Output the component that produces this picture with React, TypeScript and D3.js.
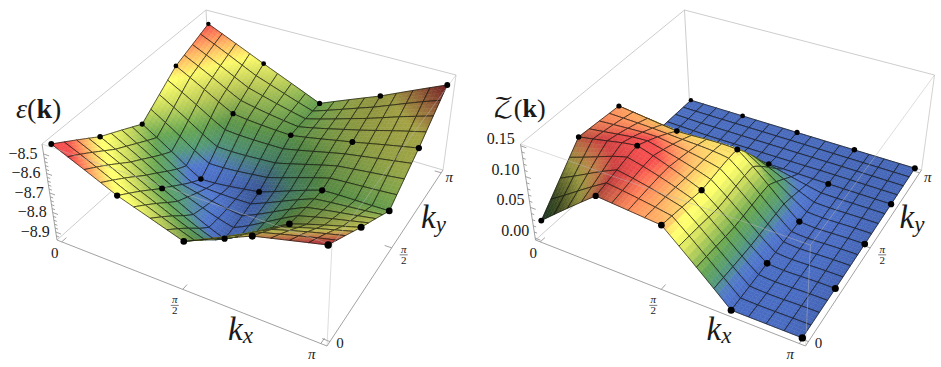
import * as d3 from 'd3'

// rows are kx = 0 .. pi, columns are ky = 0 .. pi
const energyRows = [
  [-8.457, -8.612, -8.724, -8.58, -8.505],
  [-8.608, -8.776, -8.916, -8.746, -8.639],
  [-8.72, -8.923, -8.882, -8.769, -8.766],
  [-8.568, -8.733, -8.769, -8.709, -8.641],
  [-8.481, -8.63, -8.764, -8.641, -8.494],
]
const weightRows = [
  [0.026, 0.101, 0.096, 0.005, 0.006],
  [0.102, 0.119, 0.084, 0.004, 0.005],
  [0.093, 0.081, 0.085, 0.004, 0.004],
  [-0.001, 0, 0.001, 0.002, 0.003],
  [-0.001, -0.001, 0, 0.001, 0.002],
]
const energyTicks = [-8.5, -8.6, -8.7, -8.8, -8.9]
const energyMinor = [-8.52, -8.54, -8.56, -8.58, -8.62, -8.64, -8.66, -8.68, -8.72, -8.74, -8.76, -8.78, -8.82, -8.84, -8.86, -8.88, -8.92]
const weightTicks = [0, 0.05, 0.1, 0.15]
const weightMinor = [0.01, 0.02, 0.03, 0.04, 0.06, 0.07, 0.08, 0.09, 0.11, 0.12, 0.13, 0.14]

const colorStops = [0, 0.1, 0.22, 0.33, 0.5, 0.66, 0.77, 0.9]
const colorRamp = ['#4464b4', '#4a6ec0', '#4e8f70', '#5f9a4c', '#b9c955', '#f8f668', '#fcae60', '#e24848']

// box corners on screen: bottom A,B,C,D and top, seen from kx=pi, ky=0
const bottomCorners = [[57, 240], [327, 346], [443, 170], [211, 102]]
const topCorners = [[42, 144], [332, 245], [456, 75], [206, 10]]

const MESH = 16
const SUB = 4

function homography(p0: number[], p1: number[], p2: number[], p3: number[]) {
  const dx1 = p1[0] - p2[0], dx2 = p3[0] - p2[0], sx = p0[0] - p1[0] + p2[0] - p3[0]
  const dy1 = p1[1] - p2[1], dy2 = p3[1] - p2[1], sy = p0[1] - p1[1] + p2[1] - p3[1]
  const det = dx1 * dy2 - dx2 * dy1
  const g = (sx * dy2 - dx2 * sy) / det, h = (dx1 * sy - sx * dy1) / det
  const a = p1[0] - p0[0] + g * p1[0], b = p3[0] - p0[0] + h * p3[0]
  const d = p1[1] - p0[1] + g * p1[1], e = p3[1] - p0[1] + h * p3[1]
  return (u: number, v: number) => {
    const q = g * u + h * v + 1
    return [(a * u + b * v + p0[0]) / q, (d * u + e * v + p0[1]) / q]
  }
}
const bottomH = homography(bottomCorners[0], bottomCorners[1], bottomCorners[2], bottomCorners[3])
const topH = homography(topCorners[0], topCorners[1], topCorners[2], topCorners[3])

function project(u: number, v: number, w: number) {
  const b = bottomH(u, v), t = topH(u, v)
  return [b[0] + (t[0] - b[0]) * w, b[1] + (t[1] - b[1]) * w]
}

// position inside the box, data sits 2% in from the walls
const kScale = d3.scaleLinear().domain([0, 4]).range([0.02, 0.98])
const colorScale = d3.scaleLinear<string>().domain(colorStops).range(colorRamp).interpolate(d3.interpolateRgb).clamp(true)
const line = d3.line()

function bilerp(g: number[][], s: number, t: number) {
  const i = Math.min(3, Math.floor(s)), j = Math.min(3, Math.floor(t))
  const a = s - i, b = t - j
  return g[i][j] * (1 - a) * (1 - b) + g[i + 1][j] * a * (1 - b) + g[i][j + 1] * (1 - a) * b + g[i + 1][j + 1] * a * b
}

const catmull = (p0: number, p1: number, p2: number, p3: number, x: number) =>
  0.5 * (2 * p1 + (p2 - p0) * x + (2 * p0 - 5 * p1 + 4 * p2 - p3) * x * x + (3 * p1 - p0 - 3 * p2 + p3) * x * x * x)

// the surface rounds off a little inside but its outer edges stay straight
function smooth(g: number[][], s: number, t: number) {
  const flat = bilerp(g, s, t)
  const at = (i: number, j: number) => g[Math.max(0, Math.min(4, i))][Math.max(0, Math.min(4, j))]
  const i = Math.min(3, Math.floor(s)), j = Math.min(3, Math.floor(t))
  const b = t - j, a = s - i
  const rows = [i - 1, i, i + 1, i + 2].map(m => catmull(at(m, j - 1), at(m, j), at(m, j + 1), at(m, j + 2), b))
  const round = catmull(rows[0], rows[1], rows[2], rows[3], a)
  const edge = Math.min(1, Math.min(s, 4 - s, t, 4 - t) / 0.75)
  return flat + 0.28 * edge * (round - flat)
}

function Panel({ x0, rows, zDomain, ticks, minor, fmt, labelDy }: any) {
  const zScale = d3.scaleLinear().domain(zDomain).range([0, 1])
  const wGrid: number[][] = rows.map((r: number[]) => r.map(v => zScale(v)))
  const flat = rows.flat()
  const tScale = d3.scaleLinear().domain([d3.min(flat) as number, d3.max(flat) as number]).range([0, 1])

  // vertex slopes, box ratio 1:1:0.4
  const du = 0.24
  const gradU = wGrid.map((r, i) => r.map((_, j) => {
    const a = Math.max(0, i - 1), b = Math.min(4, i + 1)
    return 0.4 * (wGrid[b][j] - wGrid[a][j]) / ((b - a) * du)
  }))
  const gradV = wGrid.map((r, i) => r.map((_, j) => {
    const a = Math.max(0, j - 1), b = Math.min(4, j + 1)
    return 0.4 * (r[b] - r[a]) / ((b - a) * du)
  }))

  const pt = (s: number, t: number) => project(kScale(s), kScale(t), smooth(wGrid, s, t))
  const colorAt = (s: number, t: number) => {
    const gu = bilerp(gradU, s, t), gv = bilerp(gradV, s, t)
    const n = Math.sqrt(gu * gu + gv * gv + 1)
    const shade = Math.max(0.4, Math.min(1.08, (-gu * 0.55 - gv * 0.2 + 1) / n))
    const c = d3.rgb(colorScale(tScale(bilerp(rows, s, t))))
    return d3.rgb(c.r * shade, c.g * shade, c.b * shade).formatHex()
  }

  const marks: any[] = []
  const step = 4 / MESH
  const cellPolys: [number, number[][]][] = []
  for (let ci = 0; ci < MESH; ci++) {
    for (let cj = MESH - 1; cj >= 0; cj--) {
      const s0 = ci * step, t0 = cj * step
      for (let a = 0; a < SUB; a++) {
        for (let b = SUB - 1; b >= 0; b--) {
          const d = step / SUB
          const s = s0 + a * d, t = t0 + b * d
          const fill = colorAt(s + d / 2, t + d / 2)
          marks.push(<path key={`q${ci}-${cj}-${a}-${b}`} d={line([pt(s, t), pt(s + d, t), pt(s + d, t + d), pt(s, t + d)] as any) + 'Z'} fill={fill} stroke={fill} strokeWidth={0.5} />)
        }
      }
      const edge: number[][] = []
      for (let a = 0; a <= SUB; a++) edge.push(pt(s0 + a * step / SUB, t0))
      for (let b = 1; b <= SUB; b++) edge.push(pt(s0 + step, t0 + b * step / SUB))
      for (let a = SUB - 1; a >= 0; a--) edge.push(pt(s0 + a * step / SUB, t0 + step))
      for (let b = SUB - 1; b > 0; b--) edge.push(pt(s0, t0 + b * step / SUB))
      cellPolys.push([ci * 1000 + (MESH - cj), edge])
      marks.push(<path key={`m${ci}-${cj}`} d={line(edge as any) + 'Z'} fill="none" stroke="#141410" strokeWidth={0.7} />)
    }
  }

  // data points, skipped when a nearer part of the surface covers them
  const dots: any[] = []
  for (let i = 0; i <= 4; i++) {
    for (let j = 0; j <= 4; j++) {
      const p = pt(i, j)
      const order = (i * MESH / 4) * 1000 + (MESH - j * MESH / 4)
      const hidden = cellPolys.some(([o, poly]) => o > order + 1001 && d3.polygonContains(poly as any, p as any))
      if (hidden) continue
      const r = 2.2 + 1.5 * (i + (4 - j)) / 8
      dots.push(<circle key={`d${i}-${j}`} cx={p[0]} cy={p[1]} r={r} fill="#000" />)
    }
  }

  const e = (a: number[], b: number[], color: string, key: string, op = 1) =>
    <path key={key} d={line([project(a[0], a[1], a[2]), project(b[0], b[1], b[2])] as any) as string} stroke={color} strokeWidth={0.8} fill="none" opacity={op} />

  const tickPos = [0, 2, 4]
  const axisGrey = '#8a8a8a', boxGrey = '#c0c0c0'
  const [kxAt, kyAt] = [tickPos.map(t => kScale(t)), tickPos.map(t => kScale(t))]

  const label = (t: number, u: number, v: number, dx: number, dy: number, txt: string, key: string) => {
    const p = project(u, v, 0)
    return <text key={key} x={p[0] + dx} y={p[1] + dy} fontSize={t} textAnchor="middle" fontStyle={txt === 'π' ? 'italic' : 'normal'}>{txt}</text>
  }
  const frac = (u: number, v: number, dx: number, dy: number, key: string) => {
    const p = project(u, v, 0)
    const cx = p[0] + dx, cy = p[1] + dy
    return <g key={key}>
      <text x={cx} y={cy - 2} fontSize={11} fontStyle="italic" textAnchor="middle">π</text>
      <line x1={cx - 4} x2={cx + 4} y1={cy} y2={cy} stroke="#222" strokeWidth={0.6} />
      <text x={cx} y={cy + 9} fontSize={11} textAnchor="middle">2</text>
    </g>
  }

  return (
    <g transform={`translate(${x0},0)`} fontFamily="'Liberation Serif', serif" fill="#1a1a1a">
      {e([0, 0, 0], [0, 1, 0], boxGrey, 'b1')}
      {e([0, 1, 0], [1, 1, 0], boxGrey, 'b2')}
      {e([0, 1, 0], [0, 1, 1], boxGrey, 'b3')}
      {e([0, 0, 1], [0, 1, 1], boxGrey, 'b4')}
      {e([0, 1, 1], [1, 1, 1], boxGrey, 'b5')}
      {e([0, 0, 0], [1, 0, 0], axisGrey, 'a1')}
      {e([1, 0, 0], [1, 1, 0], axisGrey, 'a2')}
      {e([0, 0, 0], [0, 0, 1], axisGrey, 'a3')}
      {kxAt.map((u, i) => e([u, 0, 0], [u, 0.025, 0], axisGrey, `tx${i}`))}
      {kyAt.map((v, i) => e([1, v, 0], [0.975, v, 0], axisGrey, `ty${i}`))}
      {ticks.map((z: number) => e([0, 0, zScale(z)], [0.022, 0, zScale(z)], axisGrey, `tz${z}`))}
      {minor.map((z: number) => e([0, 0, zScale(z)], [0.012, 0, zScale(z)], axisGrey, `mz${z}`))}
      {marks}
      {e([0, 0, 1], [1, 0, 1], '#b8b8b8', 'f1', 0.6)}
      {e([1, 0, 1], [1, 1, 1], '#b8b8b8', 'f2', 0.6)}
      {e([1, 0, 0], [1, 0, 1], '#b8b8b8', 'f3', 0.6)}
      {e([1, 1, 0], [1, 1, 1], '#b8b8b8', 'f4', 0.8)}
      {dots}
      {ticks.map((z: number) => {
        const p = project(0, 0, zScale(z))
        return <text key={`l${z}`} x={p[0] - 6} y={p[1] + labelDy} fontSize={16} textAnchor="end">{fmt(z)}</text>
      })}
      {label(15, kScale(0), 0, -7, 16, '0', 'x0')}
      {frac(0.5, 0, -8, 16, 'x2')}
      {label(15, kScale(4), 0, -9, 15, 'π', 'x4')}
      {label(15, 1, kScale(0), 10, 6, '0', 'y0')}
      {frac(1, 0.5, 12, 7, 'y2')}
      {label(15, 1, kScale(4), 8, 9, 'π', 'y4')}
      <text x={228} y={340} fontSize={33} fontStyle="italic">k<tspan fontSize={23} dy={3}>x</tspan></text>
      <text x={421} y={228} fontSize={33} fontStyle="italic">k<tspan fontSize={23} dy={4}>y</tspan></text>
    </g>
  )
}

export default function App() {
  return (
    <svg width={941} height={367} style={{ position: 'absolute', left: 0, top: 0 }}>
      <rect width={941} height={367} fill="#fff" />
      <Panel x0={0} rows={energyRows} zDomain={[-8.941, -8.449]} ticks={energyTicks} minor={energyMinor} fmt={(z: number) => '−' + Math.abs(z).toFixed(1)} labelDy={5} />
      <Panel x0={478.5} rows={weightRows} zDomain={[-0.003, 0.153]} ticks={weightTicks} minor={weightMinor} fmt={(z: number) => z.toFixed(2)} labelDy={-2} />
      <text x={16} y={118} fontSize={28} fontFamily="'Liberation Serif', serif" fill="#1a1a1a"><tspan fontStyle="italic">ε</tspan>(<tspan fontWeight="bold">k</tspan>)</text>
      <text x={493} y={117} fontSize={26} fontFamily="'DejaVu Math TeX Gyre','Liberation Serif', serif" fill="#1a1a1a">𝒵<tspan fontFamily="'Liberation Serif', serif">(</tspan><tspan fontFamily="'Liberation Serif', serif" fontWeight="bold">k</tspan><tspan fontFamily="'Liberation Serif', serif">)</tspan></text>
    </svg>
  )
}
